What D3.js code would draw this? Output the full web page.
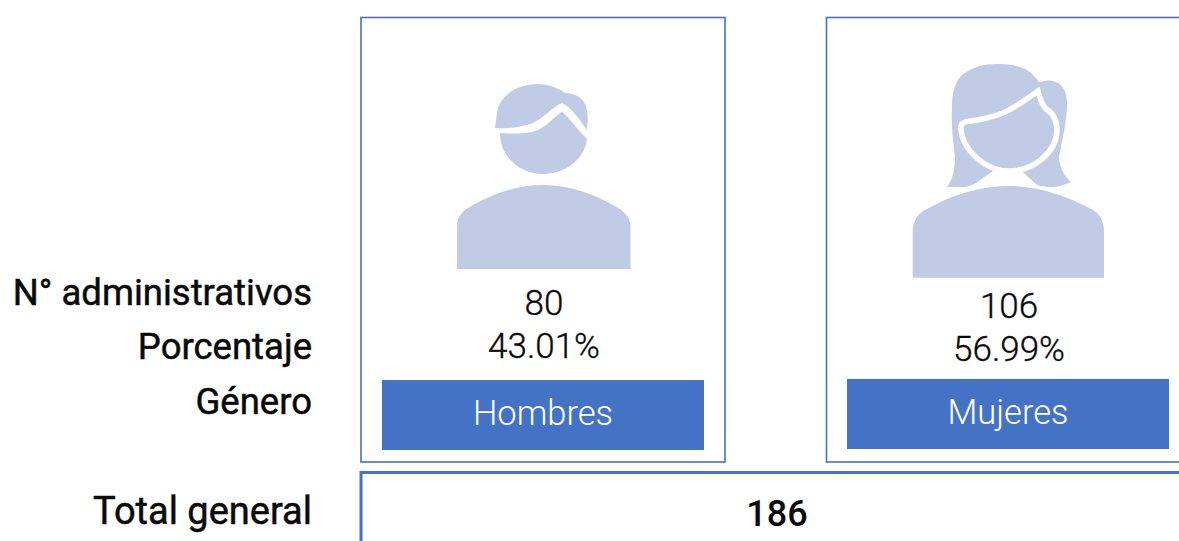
<!DOCTYPE html>
<html><head><meta charset="utf-8">
<script src="https://cdn.jsdelivr.net/npm/d3@7/dist/d3.min.js"></script>
<style>html,body{margin:0;padding:0;background:#fff;overflow:hidden}svg{display:block}text{font-family:Roboto,sans-serif}</style>
</head><body><svg id="c" width="1179" height="541"></svg>
<script>
const genders = ["Hombres", "Mujeres"];
const counts = [80, 106];
const percents = ["43.01%", "56.99%"];
const total = 186;
const rowLabels = ["N° administrativos", "Porcentaje", "Género"];
const totalLabel = "Total general";
const BLUE = "#4472c4", ICON = "#c0cbe5";

const manPaths = [
  {d:"M457,269V227C457,218 461,212 468,208C490,195 515,185 543,185C571,185 597,195 618,208C625,212 630.5,218 630.5,227V269Z"},
  {d:"M495,128L497,113C499,96 517,84 538,84C549,84 558,88 565,93C575,93 583,98 586,106C588,114 588,122 587,130C580,120 571,107 562,103C552,107 545,117 533,123C522,127 508,129 495,128Z"},
  {d:"M500,133C512,134 526,134 537,130.5C547,126 554,117 562,111.5C570,119 579,131 587,139C585,158 566,174 543,174C519,174 500,156 500,133Z"}
];
const womanPaths = [
  {d:"M912.7,277.7V231C912.7,222 917,214 925,210C950,196 978,186 1008,186C1038,186 1068,196 1093,210C1100,214 1104,222 1104,231V277.7Z"},
  {d:"M947,187C952,181 955,170 955,157C953,140 951,125 952,107C952,92 955,82 962,75C972,67 984,64 997,64C1010,64 1020,66 1027,70C1033,74 1036,78 1039,82C1045,81 1049,80 1053,81C1062,83 1067,91 1067,103C1067,122 1062,140 1059,157C1059,166 1064,176 1071,182C1064,185 1058,187 1052,187C1046,187 1040,187 1036,184L1026,175L1009,160L990,173L979,181C975,184 971,186 965,187Z"},
  {d:"M965,122C979,120 991,118 1003,113C1016,107 1027,99 1038,91C1040,98 1041,104 1046,109C1053,113 1057,121 1057,131C1056,152 1034,171 1009,171C985,171 963,150 961,130C960,125 962,123 965,122Z", stroke:"#fff", sw:5.5}
];
const icons = [manPaths, womanPaths];

const panels = [
  {x:361, y:17.5, w:364, h:444.5, bx:382, by:380, bw:322, bh:70, cx:544, base1:315, base2:358, btxt:425},
  {x:826.5, y:17.5, w:400, h:444.5, bx:847, by:379, bw:322, bh:70, cx:1009, base1:318, base2:361, btxt:424}
];

const svg = d3.select("#c");
svg.append("g").selectAll("text").data(rowLabels).join("text")
  .attr("x",312).attr("y",(d,i)=>[305,359,414][i]).attr("text-anchor","end")
  .attr("font-size",36.5).attr("fill","#0a0a0a").attr("stroke","#0a0a0a").attr("stroke-width",0.5).text(d=>d);
svg.append("text").attr("x",312).attr("y",524).attr("text-anchor","end")
  .attr("font-size",38).attr("fill","#0a0a0a").attr("stroke","#0a0a0a").attr("stroke-width",0.5).text(totalLabel);

const g = svg.selectAll("g.panel").data(genders).join("g").attr("class","panel");
g.append("rect").attr("x",(d,i)=>panels[i].x).attr("y",(d,i)=>panels[i].y)
  .attr("width",(d,i)=>panels[i].w).attr("height",(d,i)=>panels[i].h)
  .attr("fill","none").attr("stroke",BLUE).attr("stroke-width",1.6);
g.each(function(d,i){
  d3.select(this).selectAll("path").data(icons[i]).join("path")
    .attr("d",p=>p.d).attr("fill",ICON)
    .attr("stroke",p=>p.stroke||"none").attr("stroke-width",p=>p.sw||0);
});
g.append("text").attr("x",(d,i)=>panels[i].cx).attr("y",(d,i)=>panels[i].base1)
  .attr("text-anchor","middle").attr("font-size",35).attr("font-weight",300).attr("stroke","#0a0a0a").attr("stroke-width",0.35).attr("fill","#0a0a0a").text((d,i)=>counts[i]);
g.append("text").attr("x",(d,i)=>panels[i].cx).attr("y",(d,i)=>panels[i].base2)
  .attr("text-anchor","middle").attr("font-size",35).attr("font-weight",300).attr("stroke","#0a0a0a").attr("stroke-width",0.35).attr("fill","#0a0a0a").text((d,i)=>percents[i]);
g.append("rect").attr("x",(d,i)=>panels[i].bx).attr("y",(d,i)=>panels[i].by)
  .attr("width",(d,i)=>panels[i].bw).attr("height",(d,i)=>panels[i].bh).attr("fill",BLUE);
g.append("text").attr("x",(d,i)=>panels[i].bx+panels[i].bw/2).attr("y",(d,i)=>panels[i].btxt)
  .attr("text-anchor","middle").attr("font-size",34.5).attr("font-weight",300).attr("fill","#fff").text(d=>d);

svg.append("rect").attr("x",361).attr("y",472.5).attr("width",900).attr("height",120)
  .attr("fill","none").attr("stroke",BLUE).attr("stroke-width",3);
svg.append("text").attr("x",777).attr("y",526).attr("text-anchor","middle")
  .attr("font-size",36).attr("font-weight",500).attr("fill","#0a0a0a").text(total);
</script></body></html>
